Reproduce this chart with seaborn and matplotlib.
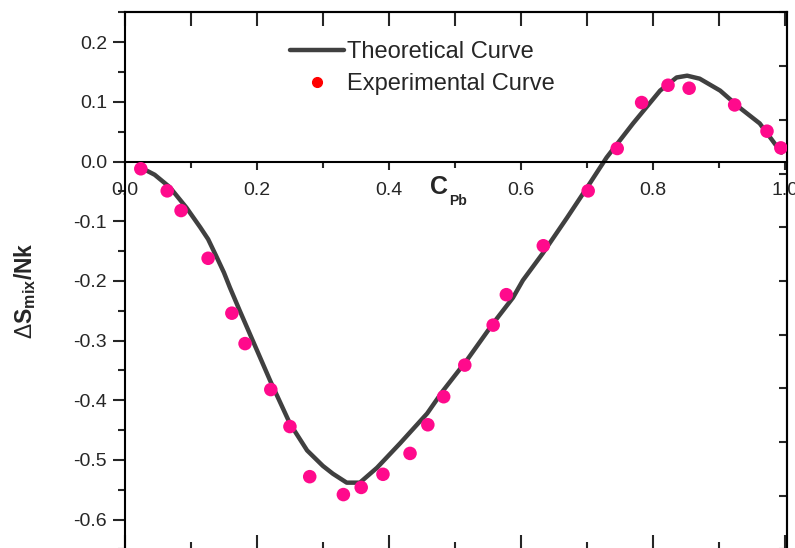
import numpy as np
import matplotlib
matplotlib.use("Agg")
import matplotlib.pyplot as plt
import seaborn as sns
from matplotlib.lines import Line2D
from matplotlib.ticker import FixedLocator, MultipleLocator, FormatStrFormatter

# theoretical curve
curve_x = [0.024, 0.045, 0.068, 0.093, 0.114, 0.126, 0.139, 0.150, 0.159, 0.174, 0.187,
           0.220, 0.250, 0.276, 0.300, 0.315, 0.336, 0.356, 0.382, 0.417, 0.458,
           0.482, 0.518, 0.558, 0.588, 0.603, 0.633, 0.670, 0.700, 0.730, 0.770,
           0.811, 0.836, 0.852, 0.871, 0.902, 0.932, 0.962, 0.995]
curve_y = [-0.010, -0.022, -0.043, -0.077, -0.110, -0.130, -0.160, -0.186, -0.211, -0.250, -0.283,
           -0.367, -0.439, -0.484, -0.510, -0.523, -0.538, -0.538, -0.513, -0.472, -0.422,
           -0.384, -0.333, -0.271, -0.228, -0.199, -0.154, -0.094, -0.044, 0.007, 0.064,
           0.119, 0.141, 0.144, 0.139, 0.119, 0.090, 0.064, 0.015]

# experimental points
exp_x = [0.024, 0.064, 0.085, 0.126, 0.162, 0.182, 0.221, 0.250, 0.280, 0.331,
         0.358, 0.391, 0.432, 0.459, 0.483, 0.515, 0.558, 0.578, 0.634, 0.702,
         0.746, 0.783, 0.823, 0.855, 0.924, 0.973, 0.994]
exp_y = [-0.012, -0.049, -0.082, -0.162, -0.254, -0.305, -0.382, -0.444, -0.528, -0.558,
         -0.546, -0.524, -0.489, -0.441, -0.394, -0.341, -0.274, -0.223, -0.141, -0.049,
         0.022, 0.099, 0.128, 0.123, 0.095, 0.051, 0.023]

x_ticks = [0.0, 0.2, 0.4, 0.6, 0.8, 1.0]
y_ticks = [-0.6, -0.5, -0.4, -0.3, -0.2, -0.1, 0.0, 0.1, 0.2]
legend_labels = ["Theoretical Curve", "Experimental Curve"]

sns.set_style("ticks")
plt.rcParams["font.family"] = ["Liberation Sans", "DejaVu Sans"]
plt.rcParams["axes.unicode_minus"] = False
plt.rcParams["mathtext.fontset"] = "custom"
plt.rcParams["mathtext.rm"] = "Liberation Sans"
plt.rcParams["mathtext.bf"] = "Liberation Sans:bold"

fig = plt.figure(figsize=(7.95, 5.48), dpi=100)
ax = fig.add_axes([0.1572, -0.0027, 0.8333, 0.980])

sns.lineplot(x=curve_x, y=curve_y, ax=ax, color="#404040", lw=3.2, zorder=2)
sns.scatterplot(x=exp_x, y=exp_y, ax=ax, color="#ff0a8c", s=95,
                edgecolor="none", zorder=3)

ax.set_xlim(0, 1.004)
ax.set_ylim(-0.65, 0.25)

for s in ax.spines.values():
    s.set_linewidth(1.5)
    s.set_color("black")
ax.spines["bottom"].set_position(("data", 0))

# x axis on the zero line
ax.xaxis.set_major_locator(FixedLocator(x_ticks))
ax.xaxis.set_minor_locator(MultipleLocator(0.1))
ax.xaxis.set_major_formatter(FormatStrFormatter("%.1f"))
ax.tick_params(axis="x", which="major", direction="out", length=6, width=1.5,
               pad=9, labelsize=14, bottom=True, top=False)
ax.tick_params(axis="x", which="minor", direction="out", length=4, width=1.5,
               bottom=True, top=False)

# left axis
ax.yaxis.set_major_locator(FixedLocator(y_ticks))
ax.yaxis.set_minor_locator(MultipleLocator(0.05))
ax.yaxis.set_major_formatter(FormatStrFormatter("%.1f"))
ax.tick_params(axis="y", which="major", direction="out", length=9, width=1.5,
               pad=4, labelsize=14, left=True, right=False)
ax.tick_params(axis="y", which="minor", direction="out", length=5, width=1.5,
               left=True, right=False)

# frame axes (top, bottom, right) without labels
top = ax.secondary_xaxis("top")
top.xaxis.set_major_locator(MultipleLocator(0.1))
top.tick_params(direction="in", length=10, width=1.5, labeltop=False)
top.spines["top"].set_linewidth(1.5)

bot = ax.secondary_xaxis("bottom")
bot.xaxis.set_major_locator(FixedLocator(x_ticks))
bot.xaxis.set_minor_locator(MultipleLocator(0.1))
bot.tick_params(which="major", direction="in", length=10, width=1.5, labelbottom=False)
bot.tick_params(which="minor", direction="in", length=5, width=1.5)
bot.spines["bottom"].set_linewidth(1.5)

right = ax.secondary_yaxis("right", functions=(lambda v: (v + 0.65) / 0.9,
                                               lambda v: v * 0.9 - 0.65))
right.yaxis.set_major_locator(MultipleLocator(0.1))
right.tick_params(direction="in", length=6, width=1.5, labelright=False)
right.spines["right"].set_linewidth(1.5)

ax.set_xlabel("")
ax.set_ylabel("")
ax.text(0.463, -0.042, "C", fontsize=18, fontweight="bold", ha="left", va="center")
ax.annotate("Pb", xy=(0.463, -0.042), xytext=(19, -14), textcoords="offset pixels",
            fontsize=10, fontweight="bold", ha="left", va="center")
fig.text(25 / 795, 1 - 291 / 548, r"$\Delta\mathbf{S}_{\mathbf{mix}}\mathbf{/Nk}$",
         rotation=90, ha="center", va="center", fontsize=16.5)

handles = [Line2D([], [], color="#404040", lw=3.2),
           Line2D([], [], ls="none", marker="o", color="red", ms=7)]
ax.legend(handles, legend_labels, loc="upper left", bbox_to_anchor=(0.249, 0.946),
          frameon=False, fontsize=17, handlelength=2.3, handletextpad=0.1,
          labelspacing=0.4, borderaxespad=0, borderpad=0)

fig.savefig("out.png", dpi=100)
